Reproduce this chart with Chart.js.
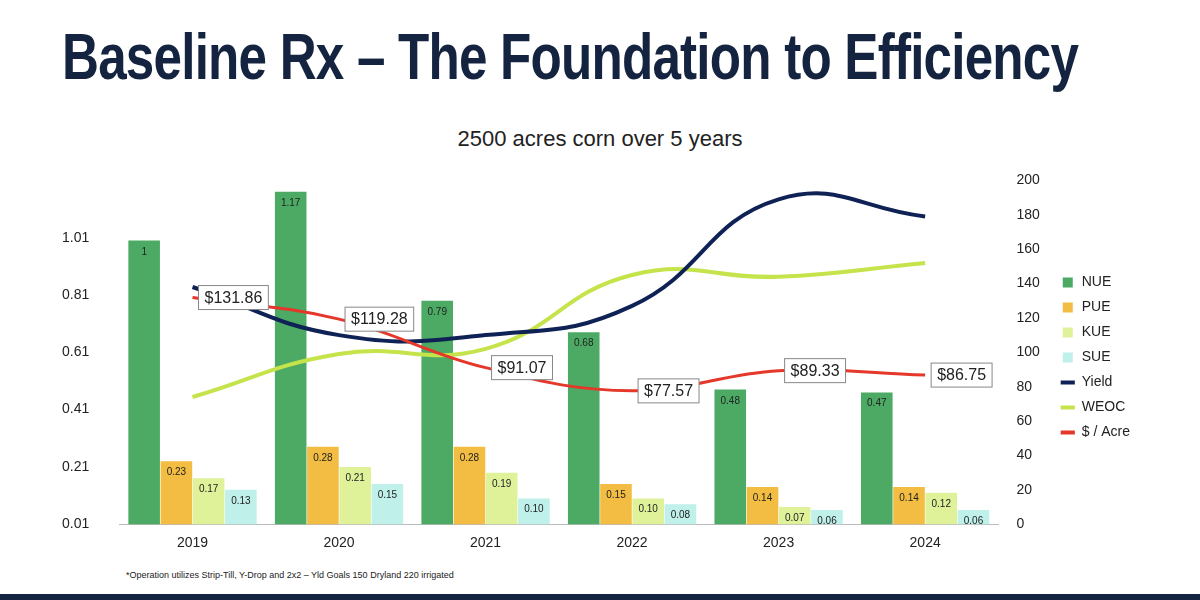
<!DOCTYPE html>
<html><head><meta charset="utf-8">
<script src="https://cdn.jsdelivr.net/npm/chart.js@4/dist/chart.umd.min.js"></script>
<style>
body{margin:0;width:1200px;height:600px;background:#fff;overflow:hidden;position:relative;font-family:"Liberation Sans",Arial,sans-serif}
h1{position:absolute;left:62px;top:22px;margin:0;white-space:nowrap;font-family:"Liberation Sans Narrow","Liberation Sans",sans-serif;font-weight:bold;font-size:64px;line-height:70px;color:#14233f;letter-spacing:-1px;transform:scaleX(0.8);transform-origin:left}
#sub{position:absolute;left:0;width:1200px;top:126px;text-align:center;font-size:22px;color:#222}
#wrap{position:absolute;left:20px;top:150px;width:1160px;height:405px}
#note{position:absolute;left:126px;top:570px;font-size:9px;color:#222}
#bar{position:absolute;left:0;top:594px;width:1200px;height:6px;background:#14233f}
</style></head><body>
<h1>Baseline Rx – The Foundation to Efficiency</h1>
<div id="sub">2500 acres corn over 5 years</div>
<div id="wrap"><canvas id="c"></canvas></div>
<div id="note">*Operation utilizes Strip-Till, Y-Drop and 2x2 – Yld Goals 150 Dryland 220 irrigated</div>
<div id="bar"></div>
<script>
var years = ["2019","2020","2021","2022","2023","2024"];
var nue = [1, 1.17, 0.79, 0.68, 0.48, 0.47];
var pue = [0.23, 0.28, 0.28, 0.15, 0.14, 0.14];
var kue = [0.17, 0.21, 0.19, 0.10, 0.07, 0.12];
var sue = [0.13, 0.15, 0.10, 0.08, 0.06, 0.06];
var yieldV = [138, 110, 110, 127, 189, 179];
var weoc = [74, 99, 102, 145, 144, 152];
var perAcre = [131.86, 119.28, 91.07, 77.57, 89.33, 86.75];

var labelPlugin = {
  id: "labels",
  afterDatasetsDraw: function(chart) {
    var ctx = chart.ctx;
    ctx.save();
    ctx.font = "10px 'Liberation Sans'";
    ctx.fillStyle = "#222";
    ctx.textAlign = "center";
    for (var d = 0; d < 4; d++) {
      chart.getDatasetMeta(d).data.forEach(function(el, i) {
        var v = chart.data.datasets[d].data[i];
        var t = d === 0 ? String(v) : v.toFixed(2);
        ctx.fillText(t, el.x, el.y + 14);
      });
    }
    var meta = chart.getDatasetMeta(6);
    ctx.font = "16px 'Liberation Sans'";
    ctx.textAlign = "left";
    meta.data.forEach(function(el, i) {
      var t = "$" + perAcre[i].toFixed(2);
      var w = ctx.measureText(t).width + 12;
      var x = el.x + 6, y = el.y - 12;
      ctx.fillStyle = "#fff";
      ctx.strokeStyle = "#888";
      ctx.lineWidth = 1;
      ctx.fillRect(x, y, w, 24);
      ctx.strokeRect(x, y, w, 24);
      ctx.fillStyle = "#222";
      ctx.fillText(t, x + 6, y + 17);
    });
    ctx.restore();
  }
};

new Chart("c", {
  data: {
    labels: years,
    datasets: [
      {type: "bar", label: "NUE", data: nue, backgroundColor: "#4caa64", yAxisID: "y", order: 5},
      {type: "bar", label: "PUE", data: pue, backgroundColor: "#f2bd42", yAxisID: "y", order: 5},
      {type: "bar", label: "KUE", data: kue, backgroundColor: "#dff29a", yAxisID: "y", order: 5},
      {type: "bar", label: "SUE", data: sue, backgroundColor: "#bff0ea", yAxisID: "y", order: 5},
      {type: "line", label: "Yield", data: yieldV, borderColor: "#0f2256", borderWidth: 4, tension: 0.45, pointRadius: 0, yAxisID: "y1", order: 1},
      {type: "line", label: "WEOC", data: weoc, borderColor: "#c5e34a", borderWidth: 4, tension: 0.45, pointRadius: 0, yAxisID: "y1", order: 1},
      {type: "line", label: "$ / Acre", data: perAcre, borderColor: "#e5372a", borderWidth: 3, tension: 0.4, pointRadius: 0, yAxisID: "y1", order: 0}
    ]
  },
  options: {
    responsive: true, maintainAspectRatio: false, animation: false,
    layout: {padding: {top: 10, left: 20, right: 40}},
    datasets: {bar: {categoryPercentage: 0.88, barPercentage: 0.98}},
    plugins: {
      legend: {position: "right", labels: {usePointStyle: true, boxWidth: 26, boxHeight: 10, padding: 11, color: "#222", font: {size: 14, family: "Liberation Sans"},
        generateLabels: function(chart) {
          return chart.data.datasets.map(function(ds, i) {
            return {text: ds.label, fillStyle: ds.type === "bar" ? ds.backgroundColor : ds.borderColor, strokeStyle: ds.type === "bar" ? ds.backgroundColor : ds.borderColor,
              lineWidth: ds.type === "bar" ? 0 : 4, pointStyle: ds.type === "bar" ? "rect" : "line", datasetIndex: i, fontColor: "#222"};
          });
        }}},
      tooltip: {enabled: false}
    },
    scales: {
      x: {grid: {display: false}, border: {color: "#bbb"}, ticks: {color: "#222", font: {size: 14}}},
      y: {min: 0.01, max: 1.21, position: "left", grid: {display: false}, border: {display: false},
        afterBuildTicks: function(s) { s.ticks = [0.01,0.21,0.41,0.61,0.81,1.01].map(function(v){return {value: v};}); },
        ticks: {color: "#222", font: {size: 14}, padding: 22, callback: function(v){return v.toFixed(2);}}},
      y1: {min: 0, max: 200, position: "right", grid: {display: false}, border: {display: false},
        ticks: {stepSize: 20, color: "#222", font: {size: 14}, padding: 10}}
    }
  },
  plugins: [labelPlugin]
});
</script>
</body></html>
